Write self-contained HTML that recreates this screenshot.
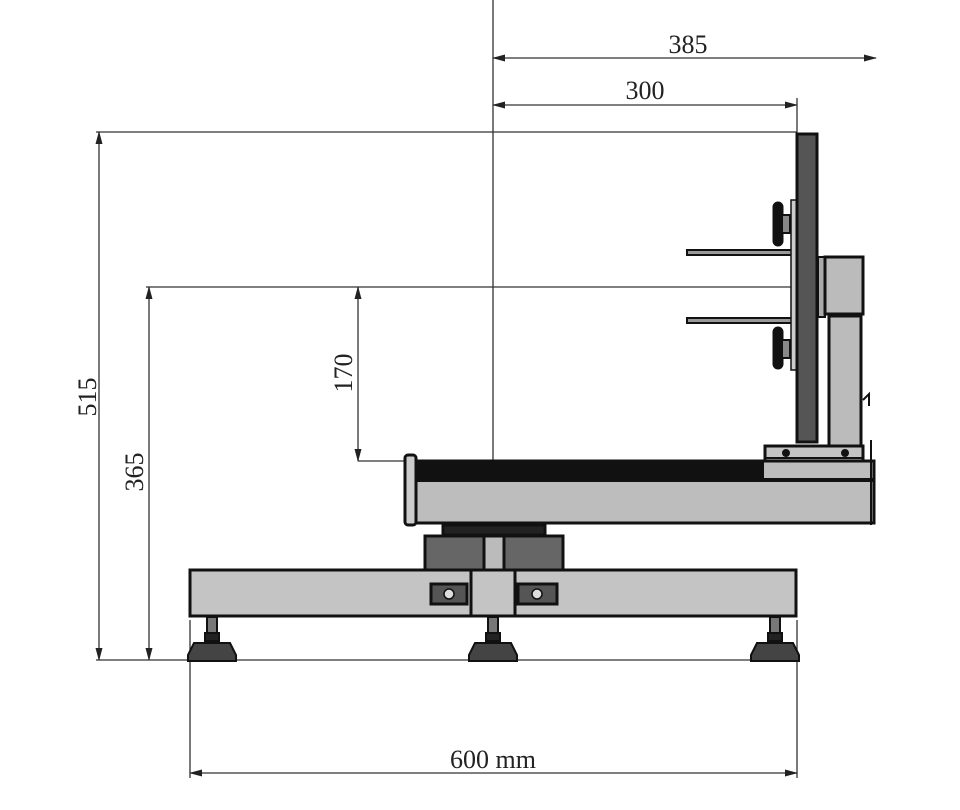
<!DOCTYPE html>
<html><head><meta charset="utf-8"><style>
html,body{margin:0;padding:0;background:#fff;width:960px;height:810px;overflow:hidden}
svg{display:block}
text{font-family:"Liberation Serif",serif;font-size:26px;fill:#222}
</style></head><body>
<svg width="960" height="810" viewBox="0 0 960 810" xmlns="http://www.w3.org/2000/svg">
<defs>
<marker id="a" markerWidth="13" markerHeight="7" refX="12" refY="3.5" orient="auto-start-reverse" markerUnits="userSpaceOnUse"><path d="M0,0 L13,3.5 L0,7 z" fill="#222"/></marker>
</defs>
<g stroke="#333" stroke-width="1.3" fill="none">
<line x1="493" y1="0" x2="493" y2="520"/>
<line x1="493" y1="58" x2="876" y2="58" marker-start="url(#a)" marker-end="url(#a)"/>
<line x1="493" y1="105" x2="797" y2="105" marker-start="url(#a)" marker-end="url(#a)"/>
<line x1="797" y1="98" x2="797" y2="133"/>
<line x1="96" y1="132" x2="797" y2="132"/>
<line x1="99" y1="132" x2="99" y2="660" marker-start="url(#a)" marker-end="url(#a)"/>
<line x1="146" y1="287" x2="800" y2="287"/>
<line x1="149" y1="287" x2="149" y2="660" marker-start="url(#a)" marker-end="url(#a)"/>
<line x1="358" y1="287" x2="358" y2="461" marker-start="url(#a)" marker-end="url(#a)"/>
<line x1="358" y1="461" x2="405" y2="461"/>
<line x1="96" y1="660" x2="797" y2="660"/>
<line x1="190" y1="620" x2="190" y2="778"/>
<line x1="797" y1="620" x2="797" y2="778"/>
<line x1="190" y1="773" x2="797" y2="773" marker-start="url(#a)" marker-end="url(#a)"/>
</g>
<text x="688" y="53" text-anchor="middle">385</text>
<text x="645" y="99" text-anchor="middle">300</text>
<text x="493" y="768" text-anchor="middle">600 mm</text>
<text transform="translate(96,397) rotate(-90)" text-anchor="middle">515</text>
<text transform="translate(143,472) rotate(-90)" text-anchor="middle">365</text>
<text transform="translate(352,373) rotate(-90)" text-anchor="middle">170</text>

<g stroke="#111" stroke-width="3">
<rect x="687" y="250" width="105" height="5" fill="#999" stroke-width="2"/>
<rect x="687" y="318" width="105" height="5" fill="#999" stroke-width="2"/>
<rect x="774" y="203" width="8" height="42" rx="4" fill="#111"/>
<rect x="782" y="215" width="8" height="18" fill="#888" stroke-width="2"/>
<rect x="774" y="328" width="8" height="40" rx="4" fill="#111"/>
<rect x="782" y="340" width="8" height="18" fill="#888" stroke-width="2"/>
<rect x="791" y="200" width="6" height="170" fill="#ccc" stroke-width="1.5"/>
<rect x="797" y="134" width="20" height="308" fill="#555"/>
<rect x="818" y="257" width="7" height="60" fill="#aaa" stroke-width="2"/>
<rect x="825" y="257" width="38" height="57" fill="#bbb"/>
<rect x="829" y="316" width="32" height="130" fill="#bbb"/>
<path d="M863 400 l6 -6 v12" fill="none" stroke-width="2"/>
<rect x="765" y="446" width="98" height="26" fill="#c4c4c4"/>
<line x1="765" y1="458" x2="863" y2="458" stroke-width="2"/>
<circle cx="786" cy="453" r="2.5" fill="#111"/><circle cx="845" cy="453" r="2.5" fill="#111"/>
<rect x="412" y="461" width="462" height="62" fill="#bdbdbd"/>
<rect x="412" y="461" width="352" height="19" fill="#111" stroke="none"/>
<rect x="412" y="478" width="462" height="4" fill="#111" stroke="none"/>
<rect x="405" y="455" width="11" height="70" rx="3" fill="#ccc"/>
<line x1="871" y1="440" x2="871" y2="525" stroke-width="2"/>
<rect x="443" y="525" width="102" height="10" fill="#222"/>
<rect x="425" y="536" width="138" height="34" fill="#666"/>
<rect x="484" y="536" width="20" height="34" fill="#bbb"/>
<rect x="190" y="570" width="606" height="46" fill="#c4c4c4"/>
<rect x="471" y="570" width="44" height="46" fill="#c4c4c4"/>
<rect x="431" y="584" width="36" height="20" fill="#555"/>
<rect x="518" y="584" width="39" height="20" fill="#555"/>
<circle cx="449" cy="594" r="5" fill="#ddd" stroke-width="1.5"/>
<circle cx="537" cy="594" r="5" fill="#ddd" stroke-width="1.5"/>
</g>
<g fill="#222" stroke="#111" stroke-width="2">
<g transform="translate(212,0)"><rect x="-5" y="617" width="10" height="20" fill="#777"/><rect x="-7" y="633" width="14" height="8"/><path d="M-18 643 h36 l6 12 v6 h-48 v-6 z" fill="#444"/></g>
<g transform="translate(493,0)"><rect x="-5" y="617" width="10" height="20" fill="#777"/><rect x="-7" y="633" width="14" height="8"/><path d="M-18 643 h36 l6 12 v6 h-48 v-6 z" fill="#444"/></g>
<g transform="translate(775,0)"><rect x="-5" y="617" width="10" height="20" fill="#777"/><rect x="-7" y="633" width="14" height="8"/><path d="M-18 643 h36 l6 12 v6 h-48 v-6 z" fill="#444"/></g>
</g>
</svg>
</body></html>
